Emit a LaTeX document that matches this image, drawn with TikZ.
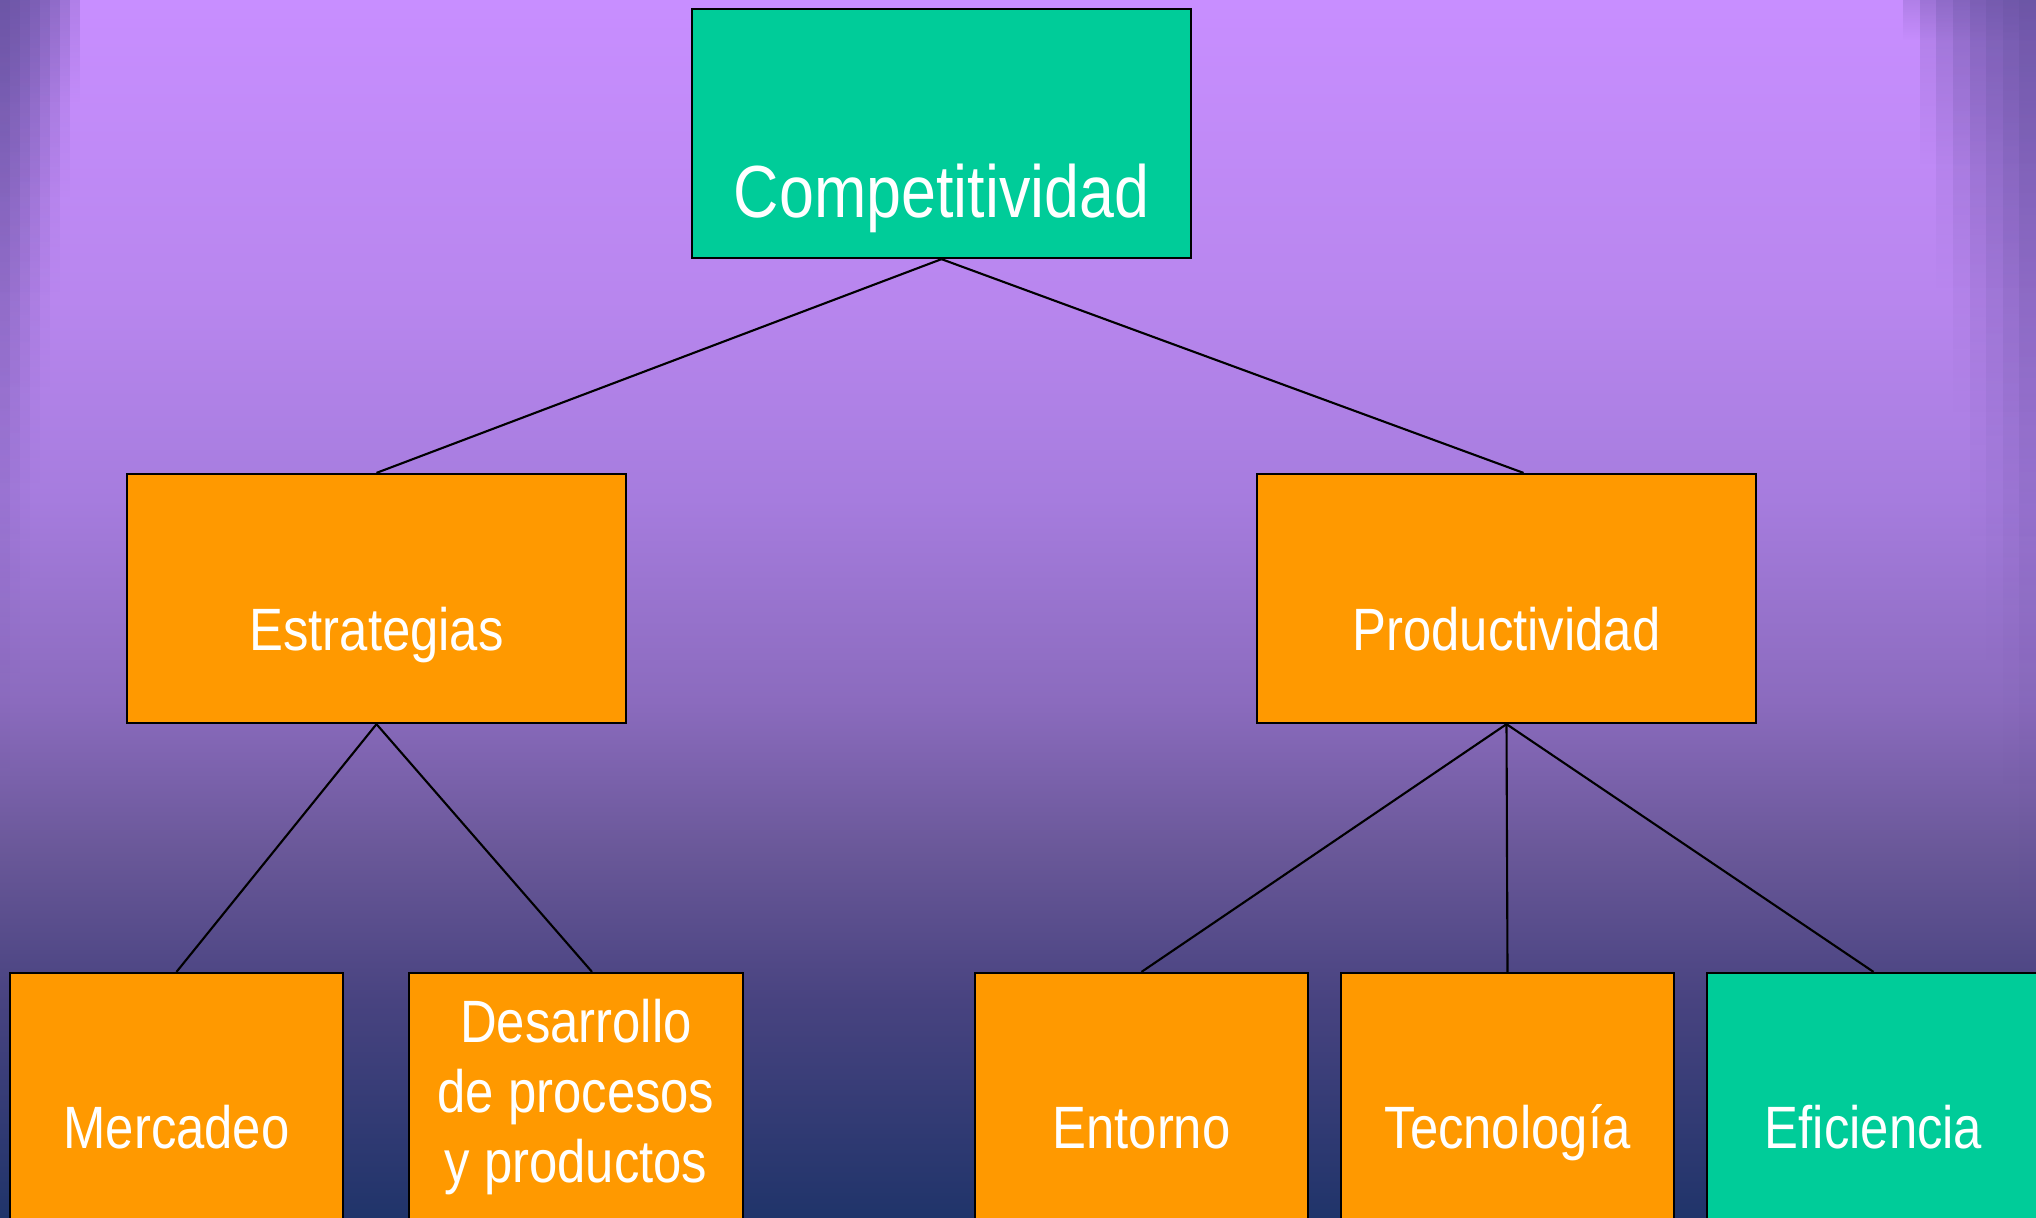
\documentclass[tikz,border=0pt]{standalone}
\usepackage{fontspec}
\setmainfont{Liberation Sans}[FakeStretch=0.85]
\usetikzlibrary{fadings}

\definecolor{verde}{HTML}{00CC99}
\definecolor{naranja}{HTML}{FF9900}
\definecolor{borde}{HTML}{62509C}
\pgfdeclareverticalshading{fondo}{100bp}{%
  color(0bp)=(rgb,255:red,32;green,52;blue,106);
  color(25bp)=(rgb,255:red,32;green,52;blue,106);
  color(33.9bp)=(rgb,255:red,72;green,67;blue,128);
  color(40.1bp)=(rgb,255:red,106;green,88;blue,153);
  color(46.2bp)=(rgb,255:red,139;green,107;blue,190);
  color(54.5bp)=(rgb,255:red,166;green,124;blue,222);
  color(62.7bp)=(rgb,255:red,184;green,134;blue,238);
  color(75bp)=(rgb,255:red,200;green,142;blue,255);
  color(100bp)=(rgb,255:red,200;green,142;blue,255)}
\tikzfading[name=haciaabajo, top color=transparent!0, bottom color=transparent!100]

\begin{document}
\begin{tikzpicture}[x=0.01cm,y=-0.01cm,line width=0.6pt,
    caja/.style={draw=black,minimum width=#1,minimum height=2.49cm,inner sep=0pt},
    rotulo/.style={text=white,anchor=base,inner sep=0pt,font=\fontsize{17}{19.9}\selectfont},
    grande/.style={rotulo,font=\fontsize{21}{25}\selectfont},
    franja/.style={borde,fill opacity=0.23,path fading=haciaabajo}]
    \useasboundingbox (0,0) rectangle (2036,1217);
    \clip (0,0) rectangle (2036,1217);
    % fondo
    \shade[shading=fondo] (0,0) rectangle (2036,1217);
    \foreach \k in {1,...,8}
    {
        \fill[franja] (0,0) rectangle (10*\k,870-96*\k);
        \fill[franja] (2036-16.6*\k,0) rectangle (2036,1040-125*\k);
    }

    % cajas
    \node[caja=4.99cm,fill=verde] (comp) at (941.5,133.5) {};
    \node[caja=4.99cm,fill=naranja] (estr) at (376.5,598.5) {};
    \node[caja=4.99cm,fill=naranja] (prod) at (1506.5,598.5) {};
    \foreach \n/\x in {merc/176.5,desa/576,ento/1141.5,tecn/1507.5}
        \node[caja=3.33cm,fill=naranja] (\n) at (\x,1097.5) {};
    \node[caja=3.33cm,fill=verde] (efic) at (1873.5,1097.5) {};

    % conectores
    \draw (comp.south) -- (estr.north);
    \draw (comp.south) -- ([xshift=0.17cm]prod.north);
    \draw (estr.south) -- (merc.north);
    \draw (estr.south) -- ([xshift=0.16cm]desa.north);
    \foreach \n in {ento,tecn,efic}
        \draw (prod.south) -- (\n.north);

    % textos
    \node[grande] (comp-t) at (941.5,217) {Competitividad};
    \node[rotulo] (estr-t) at (376.5,650) {Estrategias};
    \node[rotulo] (prod-t) at (1506.5,650) {Productividad};
    \node[rotulo] (merc-t) at (176.5,1148) {Mercadeo};
    \node[rotulo,align=center] (desa-t) at (576,1182) {Desarrollo\\de procesos\\y productos};
    \node[rotulo] (ento-t) at (1141.5,1148) {Entorno};
    \node[rotulo] (tecn-t) at (1507.5,1148) {Tecnología};
    \node[rotulo] (efic-t) at (1873.5,1148) {Eficiencia};
\end{tikzpicture}
\end{document}
